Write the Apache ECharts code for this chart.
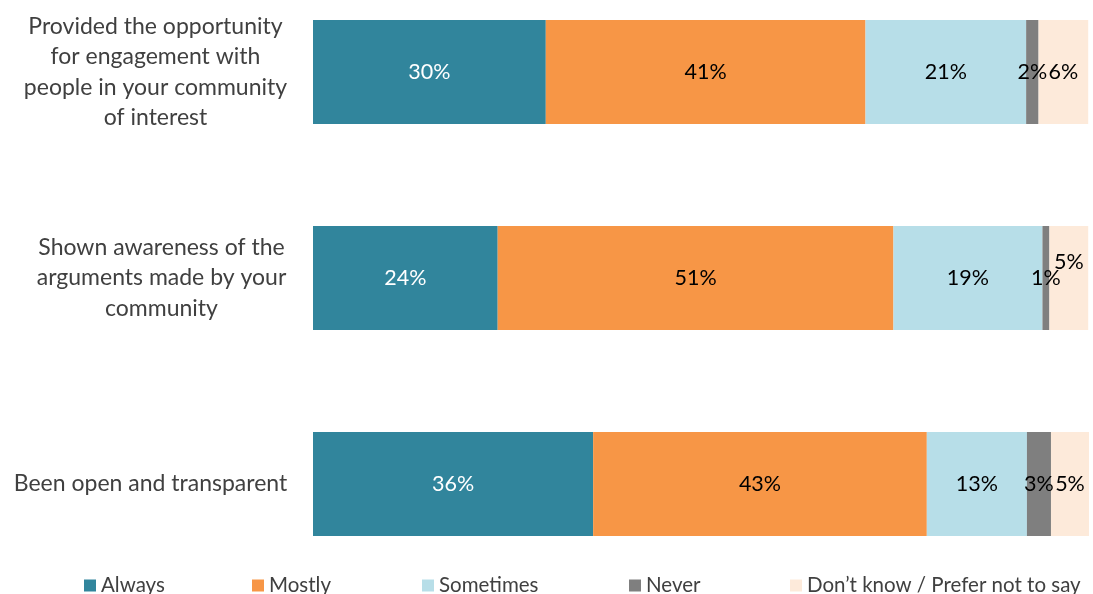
<!DOCTYPE html>
<html><head><meta charset="utf-8">
<script src="https://cdn.jsdelivr.net/npm/echarts@6/dist/echarts.min.js"></script>
<style>html,body{margin:0;padding:0;background:#fff}#c{width:1093px;height:594px}</style>
</head><body><div id="c"></div>
<script>
const categories = [
  'Provided the opportunity\nfor engagement with\npeople in your community\nof interest',
  'Shown awareness of the\narguments made by your\ncommunity',
  'Been open and transparent'
];
const seriesNames = ['Always', 'Mostly', 'Sometimes', 'Never', 'Don\u2019t know / Prefer not to say'];
const always    = [30.0, 23.8, 36.1];
const mostly    = [41.2, 51.0, 43.0];
const sometimes = [20.7, 19.2, 12.9];
const never     = [1.6, 0.9, 3.1];
const dontKnow  = [6.4, 5.0, 4.9];
const labels = [
  ['30%', '24%', '36%'],
  ['41%', '51%', '43%'],
  ['21%', '19%', '13%'],
  ['2%', '1%', '3%'],
  ['6%', '5%', '5%']
];
const colors = ['#31859C', '#F79646', '#B7DEE8', '#7F7F7F', '#FDEADA'];
const values = [always, mostly, sometimes, never, dontKnow];
const FONT = 'Lato';

const chart = echarts.init(document.getElementById('c'));
const legendLeft = [79, 247, 417, 624, 785];
const series = seriesNames.map((name, i) => ({
  name, type: 'bar', stack: 'total', barWidth: 104,
  itemStyle: { color: colors[i] },
  label: {
    show: true, position: 'inside', fontFamily: FONT, fontSize: 21.5,
    color: i === 0 ? '#ffffff' : '#000000',
    formatter: p => labels[i][p.dataIndex]
  },
  data: values[i].map((v, j) => {
    const d = { value: v };
    if (i === 4 && j === 1) d.label = { offset: [0, -16] };
    return d;
  })
}));
const rowStyles = ['r0', 'r1', 'r2'];
const rs = w => ({ width: w, align: 'center', fontFamily: FONT, fontSize: 23, color: '#404040', lineHeight: 30.5 });
chart.setOption({
  animation: false,
  grid: { left: 313, right: 4, top: -31, height: 618, outerBoundsMode: 'none', containLabel: false },
  legend: seriesNames.map((n, i) => ({
    data: [n], left: legendLeft[i], top: 570, itemWidth: 12, itemHeight: 12, icon: 'rect',
    itemGap: 5, textStyle: { fontFamily: FONT, fontSize: 20.5, color: '#404040' }
  })),
  xAxis: { type: 'value', min: 0, max: 100, show: false },
  yAxis: {
    type: 'category', inverse: true, data: categories,
    axisLine: { show: false }, axisTick: { show: false },
    axisLabel: {
      margin: 24, fontFamily: FONT, fontSize: 23, color: '#404040', lineHeight: 30.5,
      formatter: (v, idx) => '{' + rowStyles[idx] + '|' + v.split('\n').join('}\n{' + rowStyles[idx] + '|') + '}',
      rich: { r0: rs(267), r1: rs(255), r2: rs(277) }
    }
  },
  series
});
</script></body></html>
